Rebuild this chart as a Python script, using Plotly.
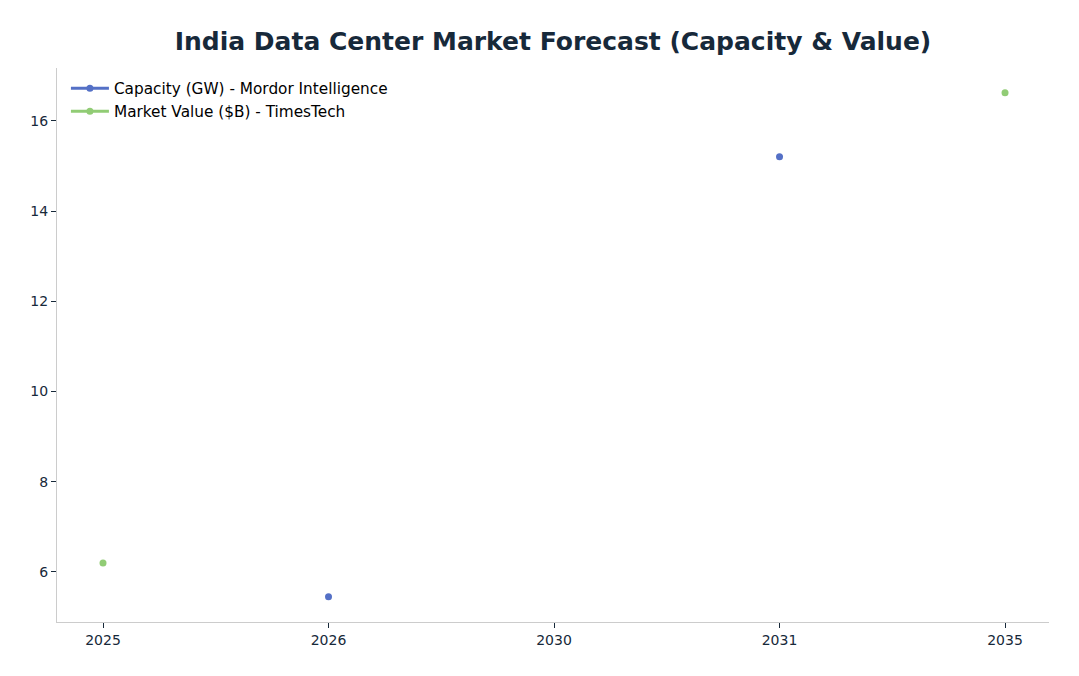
import plotly.graph_objects as go

years = ["2025", "2026", "2030", "2031", "2035"]
capacity_gw = [None, 5.45, None, 15.2, None]
market_value_b = [6.2, None, None, None, 16.62]

fig = go.Figure()

fig.add_trace(go.Scatter(x=years, y=capacity_gw, mode='lines+markers',
                         name='Capacity (GW) - Mordor Intelligence',
                         line=dict(color='#5470c6', width=3),
                         marker=dict(size=7)))
fig.add_trace(go.Scatter(x=years, y=market_value_b, mode='lines+markers',
                         name='Market Value ($B) - TimesTech',
                         line=dict(color='#91cc75', width=3),
                         marker=dict(size=7)))

fig.update_layout(
    title=dict(text='<b>India Data Center Market Forecast (Capacity & Value)</b>',
               x=0.5, xref='paper', xanchor='center', y=0.95, yanchor='middle',
               font=dict(size=25, color='#17293a', family='DejaVu Sans')),
    font=dict(family='DejaVu Sans', size=14, color='#17293a'),
    margin=dict(l=49, r=22, t=60, b=46),
    plot_bgcolor='white',
    paper_bgcolor='white',
    legend=dict(x=0.009, y=0.993, xanchor='left', yanchor='top', itemwidth=38,
                bgcolor='rgba(255,255,255,0)', font=dict(size=15.3, color='black')),
    xaxis=dict(type='category', range=[-0.204, 4.195], showgrid=False,
               showline=True, linecolor='#cccccc', ticks='outside',
               ticklen=5, tickcolor='#17293a'),
    yaxis=dict(range=[4.89, 17.17], showgrid=False, dtick=2,
               showline=True, linecolor='#cccccc', ticks='outside',
               ticklen=5, tickcolor='#17293a', zeroline=False),
)

fig.write_html("out.html")
